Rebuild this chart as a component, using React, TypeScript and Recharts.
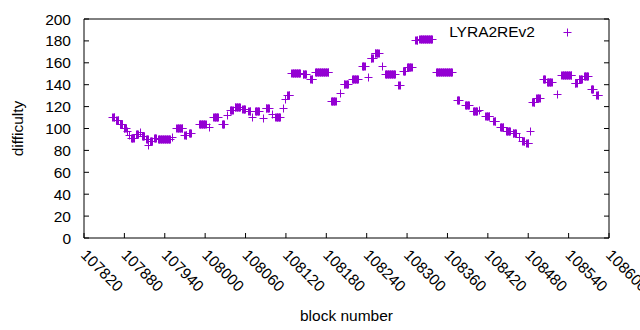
import React from 'react';
import { ScatterChart, Scatter, XAxis, YAxis, Legend } from 'recharts';

// runs of blocks sharing the same difficulty
const runStart = [
  107862, 107868, 107873, 107879, 107884, 107887, 107890, 107897, 107903, 107906,
  107912, 107915, 107918, 107924, 107930, 107951, 107957, 107969, 107976, 107991,
  108006, 108012, 108025, 108032, 108037, 108044, 108055, 108064, 108070, 108074,
  108086, 108090, 108099, 108104, 108116, 108119, 108122, 108128, 108145, 108156,
  108163, 108187, 108200, 108206, 108218, 108233, 108242, 108246, 108252, 108263,
  108267, 108287, 108294, 108300, 108312, 108318, 108343, 108374, 108386, 108398,
  108407, 108416, 108428, 108438, 108447, 108457, 108466, 108471, 108477, 108483,
  108486, 108492, 108502, 108508, 108523, 108529, 108549, 108555, 108563, 108573,
  108581,
];
const runEnd = [
  107865, 107871, 107876, 107882, 107884, 107887, 107894, 107900, 107903, 107909,
  107915, 107915, 107921, 107927, 107948, 107951, 107966, 107972, 107979, 108001,
  108006, 108019, 108028, 108032, 108041, 108052, 108059, 108067, 108070, 108080,
  108086, 108095, 108099, 108111, 108116, 108119, 108125, 108141, 108150, 108159,
  108183, 108194, 108200, 108212, 108227, 108237, 108242, 108249, 108258, 108263,
  108282, 108289, 108297, 108307, 108315, 108337, 108367, 108377, 108392, 108404,
  108407, 108422, 108431, 108443, 108453, 108462, 108466, 108474, 108480, 108483,
  108489, 108497, 108505, 108515, 108523, 108544, 108552, 108560, 108569, 108576,
  108584,
];
const runValue = [
  110.5, 108, 104, 100.5, 97.5, 94, 91.5, 95, 97, 93,
  90.5, 85, 88.5, 91.5, 90.5, 92, 100.5, 94, 96, 104,
  101.5, 110.5, 104, 112.5, 117, 119.5, 118, 116, 110.5, 116,
  109.5, 118.5, 113, 110.5, 118.5, 127, 130.5, 150.5, 150, 145,
  151.5, 125, 132.5, 141, 145, 157, 147, 164.5, 169, 157,
  150, 140, 152.5, 156, 181, 182, 151.5, 126, 121.5, 116,
  117, 111, 107, 101.5, 98, 96, 92, 88.5, 87, 98,
  124, 128, 145, 142.5, 131.5, 149, 141.5, 145, 148, 136,
  131,
];

const xTicks = [
  107820, 107880, 107940, 108000, 108060, 108120, 108180,
  108240, 108300, 108360, 108420, 108480, 108540, 108600,
];
const yTicks = [0, 20, 40, 60, 80, 100, 120, 140, 160, 180, 200];

const COLOR = '#9400d3';
const FONT = '"Liberation Sans", Arial, sans-serif';
const FS = 15.5;
const TICK = 5;

const points = runStart.flatMap((s, i) => {
  const out: { block: number; difficulty: number }[] = [];
  for (let b = s; b <= runEnd[i]; b++) out.push({ block: b, difficulty: runValue[i] });
  return out;
});

const plusPath = (cx: number, cy: number) => {
  const x = Math.round(cx) + 0.5;
  const y = Math.round(cy) + 0.5;
  return `M${x - 4},${y}H${x + 4}M${x},${y - 4}V${y + 4}`;
};

const Plus = (props: any) => {
  const { cx, cy } = props;
  if (cx == null || cy == null) return null;
  return <path d={plusPath(cx, cy)} stroke={COLOR} strokeWidth={1} fill="none" />;
};

const BottomTick = ({ x, y, payload }: any) => {
  const tx = x - 4;
  const ty = y + 18;
  return (
    <g>
      <line x1={x} y1={y} x2={x} y2={y - TICK} stroke="#000" />
      <text x={tx} y={ty} transform={`rotate(45 ${tx} ${ty})`} fontSize={FS} fontFamily={FONT} fill="#000">
        {payload.value}
      </text>
    </g>
  );
};

const LeftTick = ({ x, y, payload }: any) => (
  <g>
    <line x1={x} y1={y} x2={x + TICK} y2={y} stroke="#000" />
    <text x={x - 13} y={y + 5.5} textAnchor="end" fontSize={FS} fontFamily={FONT} fill="#000">
      {payload.value}
    </text>
  </g>
);

const TopTick = ({ x, y }: any) => <line x1={x} y1={y} x2={x} y2={y + TICK} stroke="#000" />;
const RightTick = ({ x, y }: any) => <line x1={x} y1={y} x2={x - TICK} y2={y} stroke="#000" />;

const XTitle = ({ viewBox }: any) => (
  <text x={viewBox.x + viewBox.width / 2} y={viewBox.y + viewBox.height - 9} textAnchor="middle"
    fontSize={FS} fontFamily={FONT} fill="#000">
    block number
  </text>
);

const YTitle = ({ viewBox }: any) => {
  const cx = viewBox.x + 17;
  const cy = viewBox.y + viewBox.height / 2;
  return (
    <text x={cx} y={cy} transform={`rotate(-90 ${cx} ${cy})`} textAnchor="middle" dominantBaseline="central"
      fontSize={FS} fontFamily={FONT} fill="#000">
      difficulty
    </text>
  );
};

const LegendBox = () => (
  <svg width={640} height={50} style={{ display: 'block' }}>
    <text x={535} y={37} textAnchor="end" fontSize={FS} fontFamily={FONT} fill="#000">LYRA2REv2</text>
    <path d={plusPath(567, 32)} stroke={COLOR} strokeWidth={1} fill="none" />
  </svg>
);

export default function App() {
  return (
    <div style={{ position: 'absolute', left: 0, top: 0, width: 640, height: 330, background: '#fff' }}>
      <ScatterChart width={640} height={330} margin={{ top: 0, right: 0, bottom: 0, left: 0 }}>
        <XAxis xAxisId="b" type="number" dataKey="block" domain={[107820, 108600]} ticks={xTicks}
          allowDataOverflow height={92} stroke="#000" tickLine={false} tickSize={0} tickMargin={0}
          tick={<BottomTick />} interval={0} label={<XTitle />} />
        <XAxis xAxisId="t" type="number" orientation="top" domain={[107820, 108600]} ticks={xTicks}
          allowDataOverflow height={19} stroke="#000" tickLine={false} tickSize={0} tickMargin={0}
          tick={<TopTick />} interval={0} />
        <YAxis yAxisId="l" type="number" dataKey="difficulty" domain={[0, 200]} ticks={yTicks}
          allowDataOverflow width={84} stroke="#000" tickLine={false} tickSize={0} tickMargin={0}
          tick={<LeftTick />} interval={0} label={<YTitle />} />
        <YAxis yAxisId="r" type="number" orientation="right" domain={[0, 200]} ticks={yTicks}
          allowDataOverflow width={31} stroke="#000" tickLine={false} tickSize={0} tickMargin={0}
          tick={<RightTick />} interval={0} />
        <Legend content={<LegendBox />} layout="vertical" align="center" verticalAlign="middle"
          wrapperStyle={{ left: 0, top: 0, width: 640, pointerEvents: 'none' }} />
        <Scatter xAxisId="b" yAxisId="l" name="LYRA2REv2" data={points} shape={<Plus />}
          isAnimationActive={false} />
      </ScatterChart>
    </div>
  );
}
